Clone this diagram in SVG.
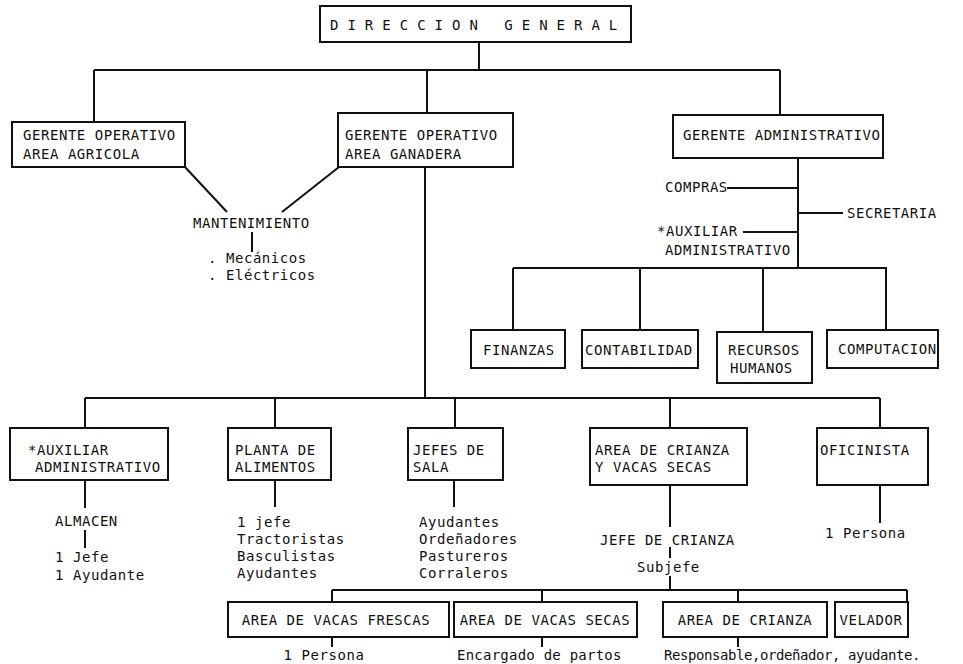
<svg xmlns="http://www.w3.org/2000/svg" width="963" height="664" viewBox="0 0 963 664">
<style>
  .bx{fill:#fff;stroke:#111;stroke-width:2}
  .ln{fill:none;stroke:#111;stroke-width:2}
  text{font-family:"DejaVu Sans Mono","Liberation Mono",monospace;font-size:14px;letter-spacing:0.55px;fill:#111}
  .c{text-anchor:middle}
</style>
<rect width="963" height="664" fill="#fff"/>
<g id="connectors">
  <path class="ln" d="M479 42V70M94 70H780M94 70V122M427 70V113M780 70V115"/>
  <path class="ln" d="M185 167L227 212M339 167L282 212M252 232V252"/>
  <path class="ln" d="M798 158V268M727 188H798M798 213H843M743 232H798"/>
  <path class="ln" d="M513 268H887M513 268V330M640 268V330M763 268V332M886 268V330"/>
  <path class="ln" d="M425 167V398M85 398H880M85 398V428M275 398V428M455 398V428M670 398V428M880 398V428"/>
  <path class="ln" d="M85 480V508M85 530V548M275 480V507M454 480V507M670 485V527M670 547V558M670 576V590M880 485V523"/>
  <path class="ln" d="M332 590H907M332 590V602M542 590V602M738 590V602M907 590V602"/>
  <path class="ln" d="M332 637V647M542 637V647M738 637V647"/>
</g>
<g id="direccion-general">
  <rect class="bx" x="320" y="6" width="311" height="36"/>
  <text x="330" y="30" style="letter-spacing:9px">DIRECCION GENERAL</text>
</g>
<g id="gerente-agricola">
  <rect class="bx" x="12" y="122" width="173" height="45"/>
  <text x="23" y="140">GERENTE OPERATIVO</text>
  <text x="23" y="159">AREA AGRICOLA</text>
</g>
<g id="gerente-ganadera">
  <rect class="bx" x="338" y="113" width="175" height="54"/>
  <text x="345" y="140">GERENTE OPERATIVO</text>
  <text x="345" y="159">AREA GANADERA</text>
</g>
<g id="gerente-administrativo">
  <rect class="bx" x="673" y="115" width="210" height="43"/>
  <text x="683" y="140">GERENTE ADMINISTRATIVO</text>
</g>
<g id="mantenimiento">
  <text x="193" y="228">MANTENIMIENTO</text>
  <text x="208" y="263">. Mecánicos</text>
  <text x="208" y="280">. Eléctricos</text>
</g>
<g id="compras"><text x="665" y="192">COMPRAS</text></g>
<g id="secretaria"><text x="847" y="218">SECRETARIA</text></g>
<g id="auxiliar-adm-admin">
  <text x="657" y="236">*AUXILIAR</text>
  <text x="665" y="255">ADMINISTRATIVO</text>
</g>
<g id="finanzas">
  <rect class="bx" x="471" y="330" width="94" height="38"/>
  <text x="483" y="355">FINANZAS</text>
</g>
<g id="contabilidad">
  <rect class="bx" x="582" y="330" width="116" height="38"/>
  <text x="585" y="355">CONTABILIDAD</text>
</g>
<g id="recursos-humanos">
  <rect class="bx" x="717" y="332" width="95" height="51"/>
  <text x="728" y="355">RECURSOS</text>
  <text x="730" y="373">HUMANOS</text>
</g>
<g id="computacion">
  <rect class="bx" x="827" y="330" width="111" height="38"/>
  <text x="838" y="354">COMPUTACION</text>
</g>
<g id="auxiliar-administrativo">
  <rect class="bx" x="10" y="428" width="158" height="52"/>
  <text x="28" y="455">*AUXILIAR</text>
  <text x="35" y="472">ADMINISTRATIVO</text>
</g>
<g id="almacen">
  <text x="55" y="526">ALMACEN</text>
  <text x="55" y="562">1 Jefe</text>
  <text x="55" y="580">1 Ayudante</text>
</g>
<g id="planta-alimentos">
  <rect class="bx" x="228" y="428" width="103" height="52"/>
  <text x="235" y="455">PLANTA DE</text>
  <text x="235" y="472">ALIMENTOS</text>
  <text x="237" y="527">1 jefe</text>
  <text x="237" y="544">Tractoristas</text>
  <text x="237" y="561">Basculistas</text>
  <text x="237" y="578">Ayudantes</text>
</g>
<g id="jefes-sala">
  <rect class="bx" x="408" y="428" width="95" height="52"/>
  <text x="413" y="455">JEFES DE</text>
  <text x="413" y="472">SALA</text>
  <text x="419" y="527">Ayudantes</text>
  <text x="419" y="544">Ordeñadores</text>
  <text x="419" y="561">Pastureros</text>
  <text x="419" y="578">Corraleros</text>
</g>
<g id="area-crianza-vacas-secas">
  <rect class="bx" x="590" y="428" width="157" height="57"/>
  <text x="595" y="455">AREA DE CRIANZA</text>
  <text x="595" y="472">Y VACAS SECAS</text>
</g>
<g id="jefe-crianza">
  <text x="600" y="545">JEFE DE CRIANZA</text>
  <text x="637" y="572">Subjefe</text>
</g>
<g id="oficinista">
  <rect class="bx" x="817" y="428" width="111" height="57"/>
  <text x="820" y="455">OFICINISTA</text>
  <text x="825" y="538">1 Persona</text>
</g>
<g id="vacas-frescas">
  <rect class="bx" x="228" y="602" width="221" height="35"/>
  <text class="c" x="336" y="625">AREA DE VACAS FRESCAS</text>
  <text class="c" x="324" y="660">1 Persona</text>
</g>
<g id="vacas-secas">
  <rect class="bx" x="454" y="602" width="183" height="35"/>
  <text class="c" x="545" y="625">AREA DE VACAS SECAS</text>
  <text x="457" y="660" textLength="165" lengthAdjust="spacing">Encargado de partos</text>
</g>
<g id="area-crianza">
  <rect class="bx" x="663" y="602" width="164" height="35"/>
  <text class="c" x="745" y="625">AREA DE CRIANZA</text>
  <text x="664" y="660" textLength="257" lengthAdjust="spacing">Responsable,ordeñador, ayudante.</text>
</g>
<g id="velador">
  <rect class="bx" x="835" y="602" width="73" height="35"/>
  <text class="c" x="871" y="625">VELADOR</text>
</g>
</svg>
